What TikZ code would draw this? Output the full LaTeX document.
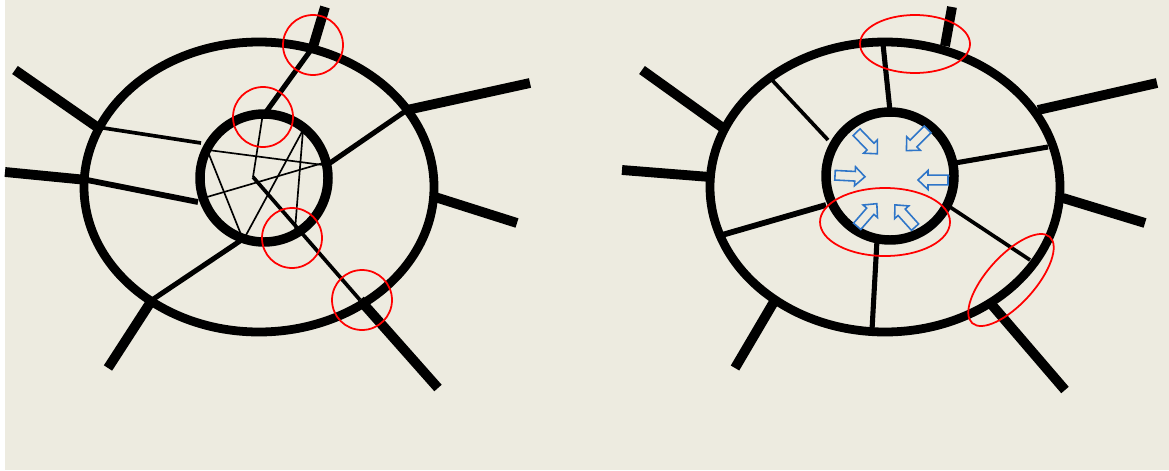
\documentclass[tikz,border=0pt]{standalone}
\definecolor{paper}{RGB}{237,235,224}
\definecolor{pushblue}{RGB}{46,117,200}
\begin{document}
\begin{tikzpicture}[x=0.02cm, y=-0.02cm,
    ring/.style={line width=5pt},
    core/.style={line width=5.4pt},
    road/.style={line width=5.6pt},
    street/.style={line width=2.9pt},
    lane/.style={line width=2.1pt},
    alley/.style={line width=0.95pt},
    flag/.style={draw=red, line width=1pt},
    push/.pic={\draw[draw=pushblue, fill=paper, line width=0.9pt]
      (-15,-4.8) -- (5,-4.8) -- (5,-9.5) -- (15,0) -- (5,9.5) -- (5,4.8) -- (-15,4.8) -- cycle;}]
  % background (pixel grid, y down)
  \fill[white] (0,0) rectangle (1169,470);
  \fill[paper] (5,0) rectangle (1169,470);
  \useasboundingbox (0,0) rectangle (1169,470);

  % ---- left: tangled centre
  \draw[ring] (259,187) ellipse [x radius=175, y radius=145];
  \draw[core] (264,178) circle [radius=64];
  \foreach \ax/\ay/\bx/\by in {97/127/15/70, 87/180/5/172, 313/47/325/7,
      407/110/530/83, 435/197/517/223, 152/300/108/368, 360/300/438/388}
    \draw[road] (\ax,\ay) -- (\bx,\by);
  \draw[street] (313,47) -- (266,112);
  \draw[street] (330,163) -- (407,110);
  \draw[street] (240,241) -- (152,300);
  \draw[street, line width=3.3pt] (87,180) -- (198,202);
  \draw[lane] (97,127) -- (201,143);
  \draw[lane] (253,177) -- (360,300);
  % crossings inside the centre
  \foreach \ax/\ay/\bx/\by in {208/150/323/165, 207/197/323/163, 208/152/242/237,
      303/130/295/230, 303/130/245/237, 263/113/253/177}
    \draw[alley] (\ax,\ay) -- (\bx,\by);
  % conflict points
  \foreach \cx/\cy in {313/45, 263/117, 292/238, 362/300}
    \draw[flag] (\cx,\cy) circle [radius=30];

  % ---- right: ring with radial feeders
  \draw[ring] (885,187) ellipse [x radius=175, y radius=145];
  \draw[core] (890,176) circle [radius=64];
  \foreach \ax/\ay/\bx/\by in {723/128/642/70, 710/177/622/170, 945/46/952/7,
      1038/110/1157/83, 1063/198/1145/223, 992/305/1065/390, 775/300/735/368}
    \draw[road] (\ax,\ay) -- (\bx,\by);
  \draw[street, line width=3.3pt] (722,235) -- (826,205);
  \draw[street] (890,111) -- (883,44);
  \draw[street] (955,163) -- (1048,147);
  \draw[street] (877,240) -- (872,330);
  \draw[lane] (772,80) -- (828,140);
  \draw[lane] (950,207) -- (1030,260);
  % inward pressure
  \foreach \x/\y/\a in {867/143/-46, 917/140/-135, 850/176/-3,
      933/180/180, 867/215/49, 905/216/132}
    \pic[rotate=\a] at (\x,\y) {push};
  % problem spots
  \draw[flag] (915,44) ellipse [x radius=55, y radius=29];
  \draw[flag] (885,222) ellipse [x radius=65, y radius=34];
  \draw[flag, rotate around={48:(1011,280)}] (1011,280) ellipse [x radius=58, y radius=24];
\end{tikzpicture}
\end{document}
